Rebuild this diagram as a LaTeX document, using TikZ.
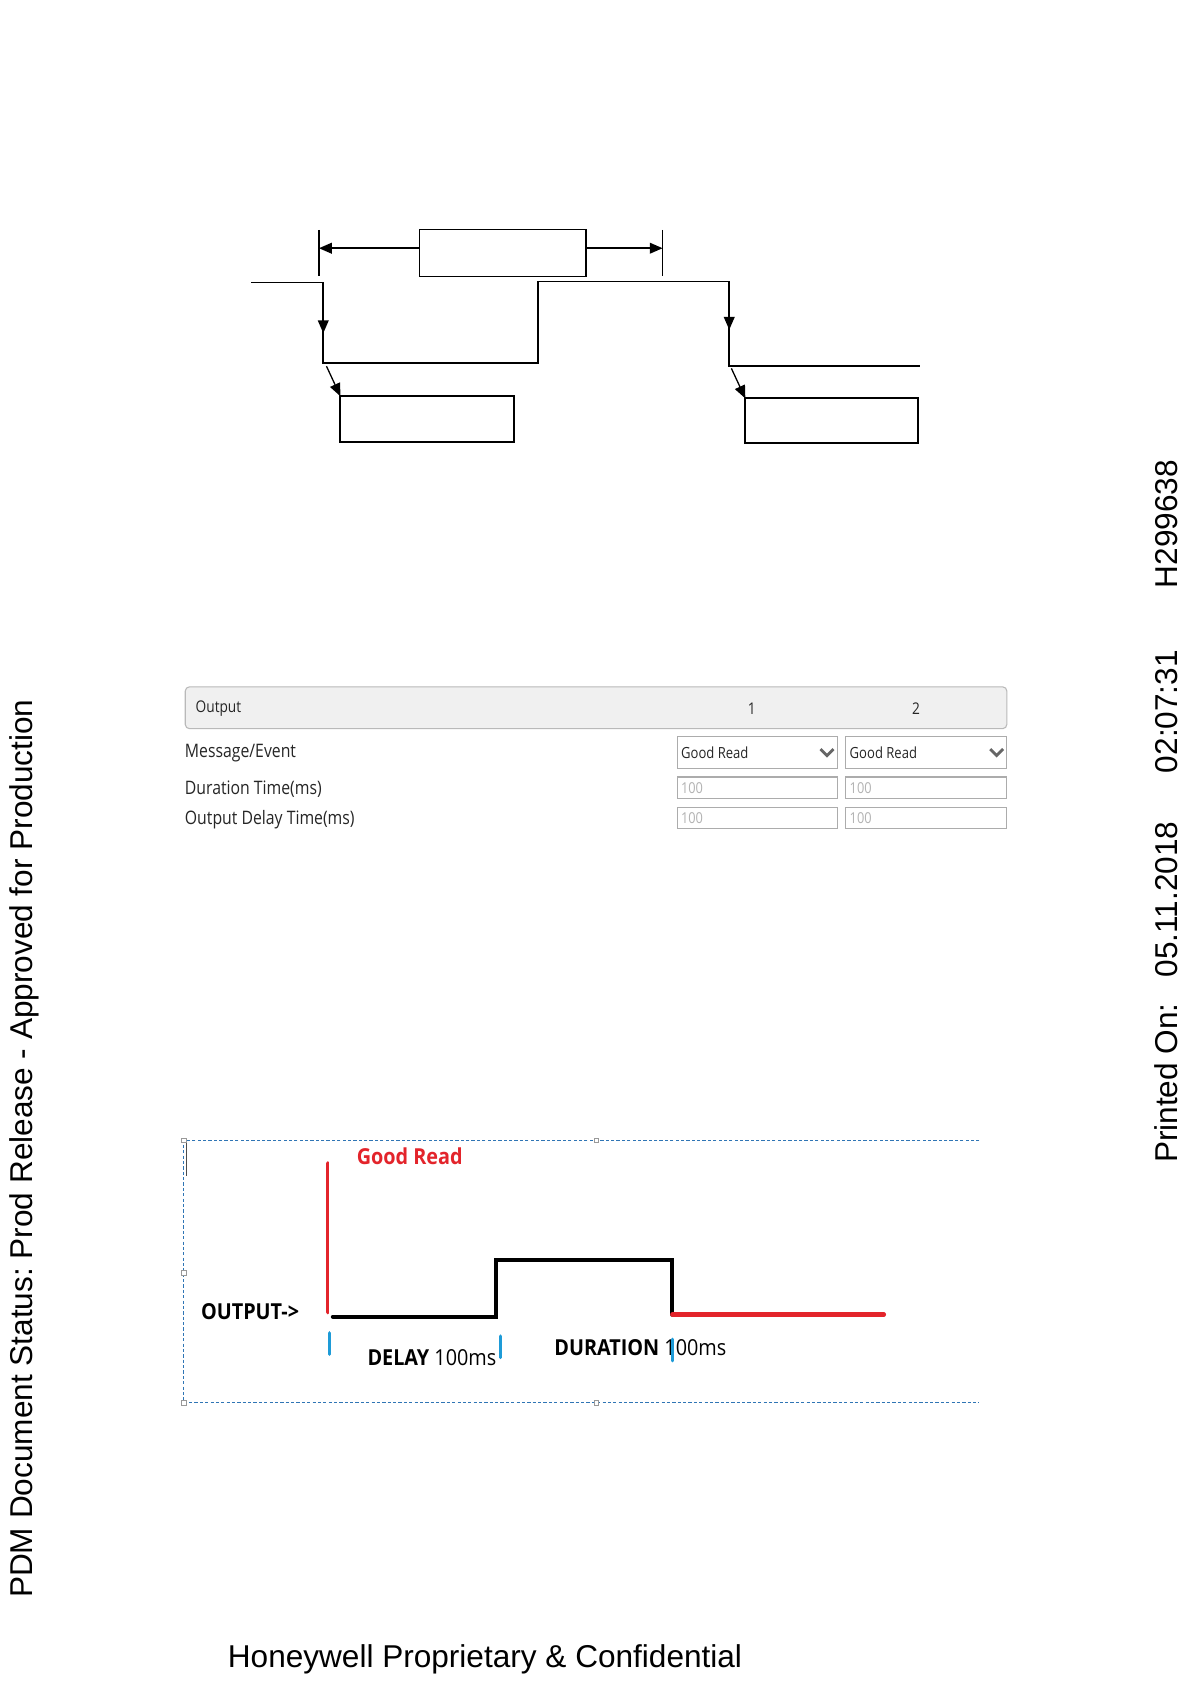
\documentclass[tikz,border=0pt]{standalone}
\usepackage{fontspec}
\setmainfont{Liberation Sans}
\newfontfamily\uifont{Open Sans}[FakeStretch=0.85]
\newfontfamily\uiboldfont{Open Sans}[FakeStretch=0.9]
\frenchspacing
\usetikzlibrary{arrows.meta,calc}
\definecolor{gred}{HTML}{E3242B}
\definecolor{gblue}{HTML}{1E9BD7}
\definecolor{dashblue}{HTML}{2F75B5}
\definecolor{hdrgray}{HTML}{F0F0F0}
\tikzset{
  wave/.style={line width=1.5pt},
  emptybox/.style={draw, line width=1.3pt, inner sep=0pt, anchor=north west},
  tipped/.style={-{Triangle[length=12pt,width=10pt]}},
  ui/.style={font=\uifont\fontsize{17.3}{20}\selectfont, inner sep=0pt, text=black!85},
  uismall/.style={font=\uifont\fontsize{14.3}{17}\selectfont, inner sep=0pt, text=black!85},
  uival/.style={font=\uifont\fontsize{14}{16}\selectfont, inner sep=0pt, text=gray!60, anchor=west},
  field/.style={draw=gray!65, line width=1pt, inner sep=0pt, anchor=north west},
  chev/.style={line width=2.6pt, black!60},
  dashbox/.style={dashblue, line width=0.8pt, dash pattern=on 3pt off 2pt},
  handle/.style={draw=gray!80, fill=white, line width=0.5pt, minimum size=4pt, inner sep=0pt},
  sig/.style={line width=4pt, line cap=round},
  tick/.style={gblue, line width=3pt, line cap=round},
  bold/.style={font=\uiboldfont\bfseries\fontsize{20.5}{24}\selectfont, inner sep=0pt, anchor=west},
  arial/.style={font=\fontsize{29.4}{34}\selectfont, inner sep=0pt},
}
\begin{document}
\begin{tikzpicture}[x=1pt,y=-1pt]
\path[use as bounding box, fill=white] (0,0) rectangle (1108,1568);

% ---------- top timing sketch ----------
\node[emptybox, minimum width=155pt, minimum height=44pt] (topbox) at (390,213) {};
\node[emptybox, minimum width=162pt, minimum height=43pt] (lbox) at (316,368) {};
\node[emptybox, minimum width=161pt, minimum height=42pt] (rbox) at (693,370) {};
\coordinate (lt1) at (297,214); \coordinate (lt2) at (297,257);
\coordinate (rt1) at (617,214); \coordinate (rt2) at (617,257);
\draw[line width=1pt] (lt1) -- (lt2);
\draw[line width=1pt] (rt1) -- (rt2);
\coordinate (al) at ($(topbox.north west)!0.4!(topbox.south west)$);
\coordinate (ar) at ($(topbox.north east)!0.4!(topbox.south east)$);
\draw[wave,tipped] (al) -- (al -| lt1);
\draw[wave,tipped] (ar) -- (ar -| rt1);

\coordinate (w0) at (234,263); \coordinate (w1) at (301,263);
\coordinate (w2) at (301,338); \coordinate (w3) at (501,338);
\coordinate (w4) at (501,262); \coordinate (w5) at (679,262);
\coordinate (w6) at (679,341); \coordinate (w7) at (857,341);
\draw[wave] (w0) -- (w1) -- (w2) -- (w3) -- (w4) -- (w5) -- (w6) -- (w7);
\draw[wave,tipped] (w1) -- ($(w1)!0.63!(w2)$);
\draw[wave,tipped] (w5) -- ($(w5)!0.57!(w6)$);
\coordinate (d1) at (304,341);
\coordinate (d2) at (681,343);
\draw[line width=1.2pt,tipped] (d1) -- ($(lbox.north west)+(1,1)$);
\draw[line width=1.2pt,tipped] (d2) -- ($(rbox.north west)+(1,1)$);

% ---------- settings table ----------
\node[draw=gray!55, fill=hdrgray, rounded corners=4pt, line width=1pt,
      minimum width=765pt, minimum height=39pt, inner sep=0pt, anchor=north west] (hdr) at (172,639) {};
\node[ui, font=\uifont\fontsize{15}{18}\selectfont, anchor=west] (hout) at (182,660) {Output};
\node[ui, font=\uifont\fontsize{15}{18}\selectfont] (h1) at (700,660) {1};
\node[ui, font=\uifont\fontsize{15}{18}\selectfont] (h2) at (853,660) {2};

\node[ui, anchor=west] (r1) at (172,701) {Message/Event};
\node[ui, anchor=west] (r2) at (172,735) {Duration Time(ms)};
\node[ui, anchor=west] (r3) at (172,763) {Output Delay Time(ms)};

\node[field, minimum width=149pt, minimum height=30pt] (dd1) at (630,685) {};
\node[field, minimum width=150pt, minimum height=30pt] (dd2) at (787,685) {};
\node[uismall, anchor=west] (dt1) at (634,701) {Good Read};
\node[uismall, anchor=west] (dt2) at (791,701) {Good Read};
\draw[chev] ($(dd1.east)+(-16,-3)$) -- ($(dd1.east)+(-10,3)$) -- ($(dd1.east)+(-4,-3)$);
\draw[chev] ($(dd2.east)+(-16,-3)$) -- ($(dd2.east)+(-10,3)$) -- ($(dd2.east)+(-4,-3)$);

\node[field, minimum width=149pt, minimum height=20pt] (f11) at (630,723) {};
\node[field, minimum width=150pt, minimum height=20pt] (f12) at (787,723) {};
\node[field, minimum width=149pt, minimum height=20pt] (f21) at (630,751) {};
\node[field, minimum width=150pt, minimum height=20pt] (f22) at (787,751) {};
\node[uival] (v11) at (634,734) {100};
\node[uival] (v12) at (791,734) {100};
\node[uival] (v21) at (634,762) {100};
\node[uival] (v22) at (791,762) {100};

% ---------- output waveform ----------
\coordinate (b1) at (171,1062); \coordinate (b2) at (912,1062);
\coordinate (b3) at (171,1306); \coordinate (b4) at (912,1306);
\draw[dashbox] (b2) -- (b1) -- (b3) -- (b4);
\node[handle] (hd1) at (171,1062) {};
\node[handle] (hd2) at (555,1062) {};
\node[handle] (hd3) at (171,1185) {};
\node[handle] (hd4) at (171,1306) {};
\node[handle] (hd5) at (555,1306) {};
\coordinate (cur1) at (174,1064); \coordinate (cur2) at (174,1095);
\draw[line width=0.8pt, black!70] (cur1) -- (cur2);

\coordinate (s0) at (305,1083); \coordinate (s1) at (305,1222);
\coordinate (s2) at (310,1226); \coordinate (s3) at (462,1226);
\coordinate (s4) at (462,1173); \coordinate (s5) at (626,1173);
\coordinate (s6) at (626,1224); \coordinate (s7) at (823,1224);
\draw[sig, gred, line width=3.5pt] (s0) -- (s1);
\draw[sig] (s2) -- (s3) -- (s4) -- (s5) -- (s6);
\draw[sig, gred] (s6) -- (s7);

\node[bold, text=gred] (gr) at (332,1077) {Good Read};
\node[bold] (outl) at (187,1221) {OUTPUT->};
\node[bold] (dl) at (342,1264) {DELAY {\mdseries 100ms}};
\node[bold] (du) at (516,1255) {DURATION {\mdseries 100ms}};

\coordinate (t1a) at (307,1241); \coordinate (t1b) at (307,1261);
\coordinate (t2a) at (466,1244); \coordinate (t2b) at (466,1264);
\coordinate (t3a) at (626,1247); \coordinate (t3b) at (626,1267);
\draw[tick] (t1a) -- (t1b);
\draw[tick] (t2a) -- (t2b);
\draw[tick] (t3a) -- (t3b);

% ---------- page furniture ----------
\node[arial, anchor=base west] (foot) at (212,1553) {Honeywell Proprietary \& Confidential};
\node[arial, anchor=base west, rotate=90] (pdm) at (30,1488) {PDM Document Status: Prod Release - Approved for Production};
\node[arial, anchor=base west, rotate=90] (pr1) at (1096,1083) {Printed On:};
\node[arial, anchor=base west, rotate=90] (pr2) at (1096,910) {05.11.2018};
\node[arial, anchor=base west, rotate=90] (pr3) at (1096,720) {02:07:31};
\node[arial, anchor=base west, rotate=90] (pr4) at (1096,548) {H299638};
\end{tikzpicture}
\end{document}
